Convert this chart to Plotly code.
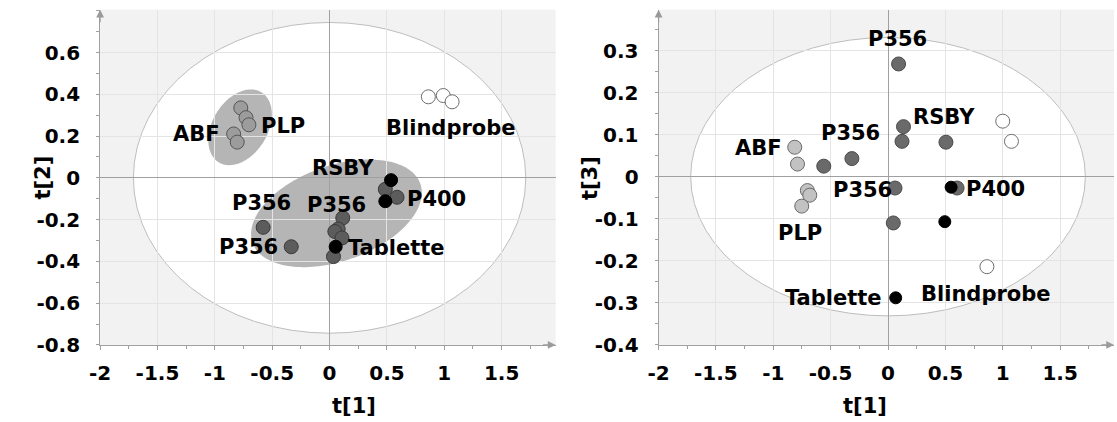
import numpy as np
import plotly.graph_objects as go
from plotly.subplots import make_subplots

# ---------------- data ----------------
# Left panel: t[1] vs t[2]
L_light_t1 = [-0.774, -0.728, -0.703, -0.836, -0.805]
L_light_t2 = [0.335, 0.288, 0.254, 0.210, 0.171]
L_dark_t1 = [-0.579, -0.334, 0.115, 0.075, 0.046, 0.108, 0.034, 0.486, 0.588]
L_dark_t2 = [-0.237, -0.330, -0.192, -0.245, -0.257, -0.288, -0.377, -0.055, -0.093]
L_black_t1 = [0.536, 0.486, 0.053]
L_black_t2 = [-0.011, -0.112, -0.330]
L_white_t1 = [0.861, 0.991, 1.068]
L_white_t2 = [0.388, 0.394, 0.364]

# Right panel: t[1] vs t[3]
R_light_t1 = [-0.813, -0.789, -0.703, -0.682, -0.752]
R_light_t3 = [0.070, 0.030, -0.033, -0.044, -0.070]
R_dark_t1 = [0.092, 0.135, 0.122, 0.505, -0.315, -0.560, 0.061, 0.046, 0.602]
R_dark_t3 = [0.268, 0.119, 0.084, 0.082, 0.043, 0.025, -0.027, -0.110, -0.027]
R_black_t1 = [0.550, 0.495, 0.067]
R_black_t3 = [-0.025, -0.107, -0.288]
R_white_t1 = [1.000, 1.076, 0.862]
R_white_t3 = [0.132, 0.084, -0.214]

# Labels
L_labels = ["ABF", "PLP", "Blindprobe", "RSBY", "P400", "P356", "P356", "P356", "Tablette"]
L_label_x = [-1.16, -0.41, 1.05, 0.12, 0.935, -0.59, 0.06, -0.71, 0.58]
L_label_y = [0.21, 0.25, 0.237, 0.047, -0.10, -0.12, -0.132, -0.33, -0.335]

R_labels = ["P356", "RSBY", "P356", "ABF", "P356", "P400", "PLP", "Tablette", "Blindprobe"]
R_label_x = [0.083, 0.49, -0.33, -1.13, -0.223, 0.94, -0.765, -0.477, 0.847]
R_label_y = [0.327, 0.142, 0.103, 0.068, -0.031, -0.029, -0.135, -0.288, -0.28]

x_ticks = [-2, -1.5, -1, -0.5, 0, 0.5, 1, 1.5]
L_y_ticks = [-0.8, -0.6, -0.4, -0.2, 0, 0.2, 0.4, 0.6]
R_y_ticks = [-0.4, -0.3, -0.2, -0.1, 0, 0.1, 0.2, 0.3]

# ---------------- layout geometry ----------------
W, H = 1117, 422
xr = [-2, 1.97]
L_yr = [-0.8, 0.805]
R_yr = [-0.4, 0.397]
dom_L = [90 / W, 550 / W]
dom_R = [654 / W, 1114 / W]
dom_y = [(H - 355) / H, (H - 10) / H]

px_x = (dom_L[1] - dom_L[0]) * W / (xr[1] - xr[0])
px_yL = (dom_y[1] - dom_y[0]) * H / (L_yr[1] - L_yr[0])
px_yR = (dom_y[1] - dom_y[0]) * H / (R_yr[1] - R_yr[0])


def ellipse_path(cx, cy, a_px, b_px, ang_deg, sx, sy, n=160):
    t = np.linspace(0, 2 * np.pi, n)
    A = np.deg2rad(ang_deg)
    u = a_px * np.cos(t)
    v = b_px * np.sin(t)
    xs = cx + (u * np.cos(A) - v * np.sin(A)) / sx
    ys = cy + (u * np.sin(A) + v * np.cos(A)) / sy
    pts = " L ".join(f"{x:.4f},{y:.4f}" for x, y in zip(xs, ys))
    return "M " + pts + " Z"


fig = make_subplots(rows=1, cols=2)

FONT = "DejaVu Sans"
LABEL_SIZE = 21
mk = 14


def add_pts(x, y, col, fill, edge, size=mk, lw=1):
    fig.add_trace(go.Scatter(
        x=x, y=y, mode="markers",
        marker=dict(size=size, color=fill, line=dict(color=edge, width=lw)),
        showlegend=False, hoverinfo="skip"), row=1, col=col)


# Left panel points
add_pts(L_light_t1, L_light_t2, 1, "#9c9c9c", "#555555")
add_pts(L_dark_t1, L_dark_t2, 1, "#5c5c5c", "#3a3a3a")
add_pts(L_black_t1, L_black_t2, 1, "#000000", "#000000", size=13)
add_pts(L_white_t1, L_white_t2, 1, "#ffffff", "#6e6e6e")

# Right panel points
add_pts(R_light_t1, R_light_t3, 2, "#c2c2c2", "#6a6a6a")
add_pts(R_dark_t1, R_dark_t3, 2, "#6a6a6a", "#4a4a4a")
add_pts(R_black_t1, R_black_t3, 2, "#000000", "#000000", size=12)
add_pts(R_white_t1, R_white_t3, 2, "#ffffff", "#6e6e6e")

shapes = []
# Hotelling ellipses (white)
shapes.append(dict(type="circle", xref="x", yref="y", x0=-1.71, x1=1.71, y0=-0.744, y1=0.744,
                   fillcolor="white", line=dict(color="#bdbdbd", width=1), layer="below"))
shapes.append(dict(type="circle", xref="x2", yref="y2", x0=-1.72, x1=1.72, y0=-0.331, y1=0.331,
                   fillcolor="white", line=dict(color="#bdbdbd", width=1), layer="below"))
# Group ellipses in left panel
shapes.append(dict(type="path", xref="x", yref="y",
                   path=ellipse_path(-0.78, 0.242, 42, 28, 60, px_x, px_yL),
                   fillcolor="#b5b5b5", line=dict(width=0), layer="below"))
shapes.append(dict(type="path", xref="x", yref="y",
                   path=ellipse_path(0.06, -0.170, 90, 49, 20, px_x, px_yL),
                   fillcolor="#b5b5b5", line=dict(width=0), layer="below"))

lab_font = dict(family=FONT, size=LABEL_SIZE, color="black", weight="bold")
annotations = []
for t, x, y in zip(L_labels, L_label_x, L_label_y):
    annotations.append(dict(x=x, y=y, xref="x", yref="y", text=t, showarrow=False, font=lab_font))
for t, x, y in zip(R_labels, R_label_x, R_label_y):
    annotations.append(dict(x=x, y=y, xref="x2", yref="y2", text=t, showarrow=False, font=lab_font))

# axis arrows
for xref, yref, yr in (("x", "y", L_yr), ("x2", "y2", R_yr)):
    annotations.append(dict(x=xr[1], y=yr[0], xref=xref, yref=yref, ax=-14, ay=0, text="",
                            showarrow=True, arrowhead=2, arrowsize=1.3, arrowwidth=1.2,
                            arrowcolor="#9a9a9a"))
    annotations.append(dict(x=xr[0], y=yr[1], xref=xref, yref=yref, ax=0, ay=14, text="",
                            showarrow=True, arrowhead=2, arrowsize=1.3, arrowwidth=1.2,
                            arrowcolor="#9a9a9a"))

title_font = dict(family=FONT, size=21, color="black", weight="bold")
# axis titles
annotations.append(dict(x=322 / W, y=4 / H, xref="paper", yref="paper",
                        text="t[1]", showarrow=False, yanchor="middle", font=title_font))
annotations.append(dict(x=887 / W, y=4 / H, xref="paper", yref="paper",
                        text="t[1]", showarrow=False, yanchor="middle", font=title_font))
annotations.append(dict(x=18 / W, y=(H - 183) / H, xref="paper", yref="paper",
                        text="t[2]", showarrow=False, textangle=-90, font=title_font))
annotations.append(dict(x=585 / W, y=(H - 183) / H, xref="paper", yref="paper",
                        text="t[3]", showarrow=False, textangle=-90, font=title_font))

tickfont = dict(family=FONT, size=20, color="black", weight="bold")
common_x = dict(range=xr, tickvals=x_ticks, ticktext=[f"{v:g}" for v in x_ticks],
                showgrid=True, gridcolor="#e4e4e4", gridwidth=1,
                zeroline=True, zerolinecolor="#a0a0a0", zerolinewidth=1,
                showline=True, linecolor="#a0a0a0", linewidth=1,
                ticks="outside", ticklen=4, tickcolor="#a0a0a0",
                minor=dict(dtick=0.25, ticks="outside", ticklen=3, tickcolor="#a0a0a0", showgrid=False),
                tickfont=tickfont, ticklabelstandoff=6, fixedrange=True)

fig.update_xaxes(domain=dom_L, row=1, col=1, **common_x)
fig.update_xaxes(domain=dom_R, row=1, col=2, **common_x)

common_y = dict(showgrid=True, gridcolor="#e4e4e4", gridwidth=1,
                zeroline=True, zerolinecolor="#a0a0a0", zerolinewidth=1,
                showline=True, linecolor="#a0a0a0", linewidth=1,
                ticks="outside", ticklen=15, tickcolor="rgba(0,0,0,0)",
                tickfont=tickfont, fixedrange=True, domain=dom_y)
fig.update_yaxes(range=L_yr, tickvals=L_y_ticks, ticktext=[f"{v:g}" for v in L_y_ticks],
                 minor=dict(dtick=0.1, ticks="outside", ticklen=3, tickcolor="#a0a0a0", showgrid=False),
                 row=1, col=1, **common_y)
fig.update_yaxes(range=R_yr, tickvals=R_y_ticks, ticktext=[f"{v:g}" for v in R_y_ticks],
                 minor=dict(dtick=0.05, ticks="outside", ticklen=3, tickcolor="#a0a0a0", showgrid=False),
                 row=1, col=2, **common_y)

fig.update_layout(width=W, height=H, margin=dict(l=0, r=0, t=0, b=0),
                  paper_bgcolor="white", plot_bgcolor="#f2f2f2",
                  shapes=shapes, annotations=annotations, showlegend=False)

fig.write_html("out.html", config={"displayModeBar": False})
